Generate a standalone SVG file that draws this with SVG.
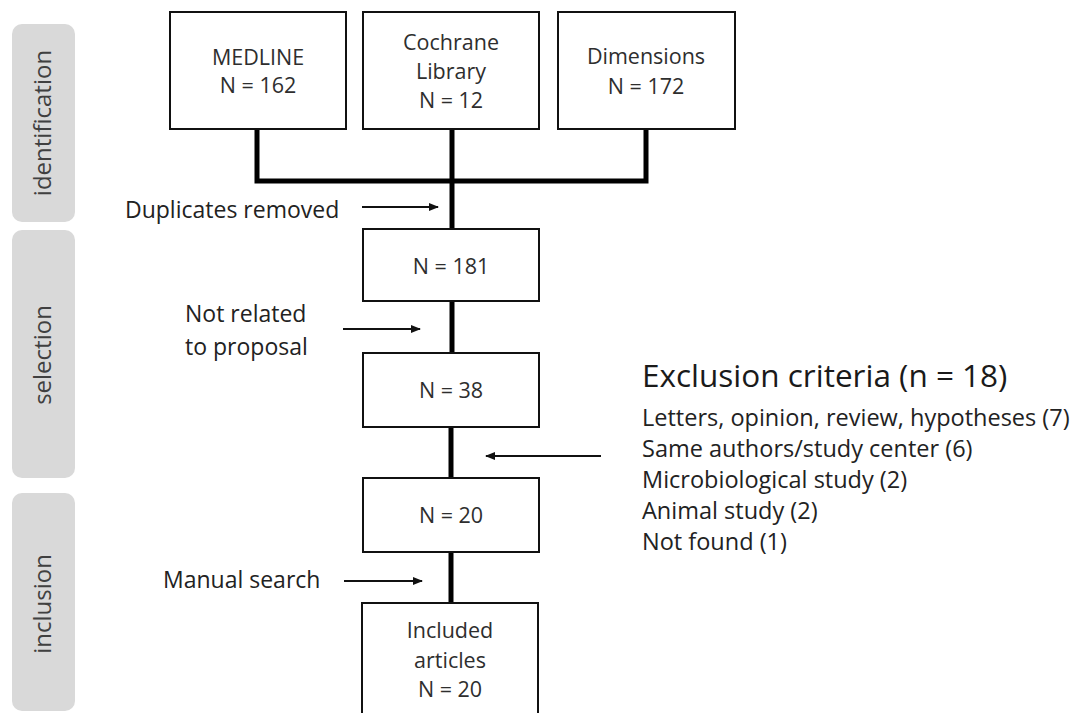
<svg xmlns="http://www.w3.org/2000/svg" width="1078" height="713" viewBox="0 0 1078 713">
<style>
.band{fill:#d9d9d9;}
.bandtxt{font-family:"Open Sans","Liberation Sans",sans-serif;font-size:24px;fill:#404040;text-anchor:middle;}
.box{fill:#fff;stroke:#111;stroke-width:2;}
.bt{font-family:"Open Sans","Liberation Sans",sans-serif;font-size:21.5px;fill:#2e2e2e;text-anchor:middle;}
.lbl{font-family:"Open Sans","Liberation Sans",sans-serif;font-size:23px;fill:#222;}
.item{font-family:"Open Sans","Liberation Sans",sans-serif;font-size:23.5px;fill:#222;}
.title{font-family:"Open Sans","Liberation Sans",sans-serif;font-size:31.5px;fill:#1a1a1a;}
.flow{fill:none;stroke:#000;stroke-width:5;stroke-linejoin:miter;}
.arr{fill:none;stroke:#111;stroke-width:2;marker-end:url(#ah);}
</style>
<defs>
<marker id="ah" markerUnits="userSpaceOnUse" markerWidth="10" markerHeight="8" refX="9" refY="4" orient="auto">
<path d="M0,0 L10,4 L0,8 Z" fill="#111"/>
</marker>
</defs>
<rect width="1078" height="713" fill="#fff"/>
<g id="band-identification">
<rect class="band" x="12" y="24" width="63" height="198" rx="10"/>
<text class="bandtxt" transform="translate(51,123) rotate(-90)">identification</text>
</g>
<g id="band-selection">
<rect class="band" x="12" y="230" width="63" height="248" rx="10"/>
<text class="bandtxt" transform="translate(51,355) rotate(-90)">selection</text>
</g>
<g id="band-inclusion">
<rect class="band" x="12" y="493" width="63" height="218" rx="10"/>
<text class="bandtxt" transform="translate(51,604) rotate(-90)">inclusion</text>
</g>
<g id="connectors">
<polyline class="flow" points="257,129 257,181 646,181 646,129"/>
<line class="flow" x1="452" y1="129" x2="452" y2="230"/>
<line class="flow" x1="452" y1="301" x2="452" y2="354"/>
<line class="flow" x1="451" y1="427" x2="451" y2="479"/>
<line class="flow" x1="451" y1="552" x2="451" y2="604"/>
<line class="arr" x1="362" y1="207" x2="438" y2="207"/>
<line class="arr" x1="343" y1="329" x2="420" y2="329"/>
<line class="arr" x1="601" y1="456" x2="486" y2="456"/>
<line class="arr" x1="344" y1="581" x2="422" y2="581"/>
</g>
<g id="medline">
<rect class="box" x="170" y="12" width="176" height="117"/>
<text class="bt" x="258" y="65">MEDLINE</text>
<text class="bt" x="258" y="93">N = 162</text>
</g>
<g id="cochrane">
<rect class="box" x="363" y="12" width="176" height="117"/>
<text class="bt" x="451" y="50">Cochrane</text>
<text class="bt" x="451" y="79">Library</text>
<text class="bt" x="451" y="108">N = 12</text>
</g>
<g id="dimensions">
<rect class="box" x="558" y="12" width="177" height="117"/>
<text class="bt" x="646" y="64">Dimensions</text>
<text class="bt" x="646" y="94">N = 172</text>
</g>
<g id="n181">
<rect class="box" x="363" y="229" width="176" height="72"/>
<text class="bt" x="451" y="274">N = 181</text>
</g>
<g id="n38">
<rect class="box" x="363" y="353" width="176" height="74"/>
<text class="bt" x="451" y="398">N = 38</text>
</g>
<g id="n20">
<rect class="box" x="363" y="478" width="176" height="74"/>
<text class="bt" x="451" y="523">N = 20</text>
</g>
<g id="included">
<rect class="box" x="362" y="603" width="176" height="130"/>
<text class="bt" x="450" y="638">Included</text>
<text class="bt" x="450" y="668">articles</text>
<text class="bt" x="450" y="697">N = 20</text>
</g>
<g id="label-duplicates">
<text class="lbl" x="125" y="218">Duplicates removed</text>
</g>
<g id="label-notrelated">
<text class="lbl" x="185" y="322">Not related</text>
<text class="lbl" x="185" y="355">to proposal</text>
</g>
<g id="label-manual">
<text class="lbl" x="163" y="588">Manual search</text>
</g>
<g id="exclusion">
<text class="title" x="642" y="387">Exclusion criteria (n = 18)</text>
<text class="item" x="642" y="426">Letters, opinion, review, hypotheses (7)</text>
<text class="item" x="642" y="457">Same authors/study center (6)</text>
<text class="item" x="642" y="488">Microbiological study (2)</text>
<text class="item" x="642" y="519">Animal study (2)</text>
<text class="item" x="642" y="550">Not found (1)</text>
</g>
</svg>
